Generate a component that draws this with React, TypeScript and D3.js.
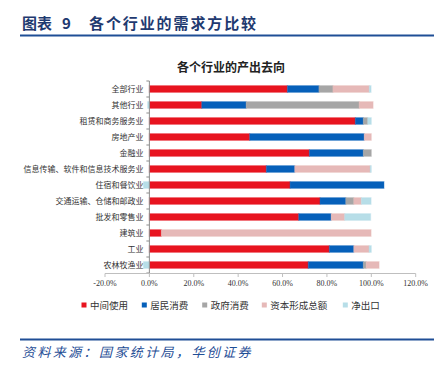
import React from 'react';
import * as d3 from 'd3';

const categories = ['全部行业', '其他行业', '租赁和商务服务业', '房地产业', '金融业', '信息传输、软件和信息技术服务业', '住宿和餐饮业', '交通运输、仓储和邮政业', '批发和零售业', '建筑业', '工业', '农林牧渔业'];
const seriesNames = ['中间使用', '居民消费', '政府消费', '资本形成总额', '净出口'];
const intermediateUse = [62.2, 23.6, 92.8, 45.2, 72.1, 52.7, 63.4, 76.9, 67.3, 5.4, 81.1, 71.6];
const householdConsumption = [14.2, 20.0, 3.6, 51.6, 24.3, 12.8, 42.3, 11.6, 14.6, 0, 11.0, 24.8];
const governmentConsumption = [6.3, 50.9, 2.0, 0, 3.6, 0, 0, 3.6, 0, 0, 0, 1.3];
const capitalFormation = [16.4, 6.3, 0, 3.2, 0, 34.0, 0, 3.4, 6.1, 94.5, 6.9, 5.8];
const netExports = [0.8, -0.8, 1.6, 0, 0, 0.5, -2.7, 4.4, 11.7, 0, 1.0, -2.7];
const xTicks = [-20, 0, 20, 40, 60, 80, 100, 120];
const colors = ['#E8141F', '#0660BA', '#A6A6A6', '#E6B9B8', '#B7DEE8'];

const W = 448;
const H = 366;

export default function App() {
  const seriesValues = [intermediateUse, householdConsumption, governmentConsumption, capitalFormation, netExports];
  const rows = categories.map((c, i) => {
    const r: any = { cat: c };
    seriesNames.forEach((s, k) => (r[s] = seriesValues[k][i]));
    return r;
  });
  const stack = d3.stack<any>().keys(seriesNames).offset(d3.stackOffsetDiverging);
  const stacked = stack(rows);

  const x = d3.scaleLinear().domain([-20, 120]).range([105, 415.7]);
  const y = d3.scaleBand<string>().domain(categories).range([81, 273]).paddingInner(0.58).paddingOuter(0.29);
  const bh = y.bandwidth();

  const cjk = '"Noto Sans CJK SC", "Noto Sans", sans-serif';
  const legendX = [84, 144.3, 204.7, 264.3, 345.3];

  return (
    <svg width={W} height={H} style={{ position: 'absolute', left: 0, top: 0, background: '#fff' }}>
      <rect x={0} y={0} width={W} height={H} fill="#fff" />
      {/* header */}
      <text x={22} y={29} fontFamily={cjk} fontWeight={700} fontSize={15} fill="#1F3A70">图表</text>
      <text x={62} y={29} fontFamily={cjk} fontWeight={700} fontSize={15} fill="#1F3A70">9</text>
      <text x={89} y={29} fontFamily={cjk} fontWeight={700} fontSize={15} letterSpacing={1.9} fill="#1F3A70">各个行业的需求方比较</text>
      <line x1={20} x2={434} y1={35.5} y2={35.5} stroke="#1F4E96" strokeWidth={2} />

      {/* chart title */}
      <text x={231} y={72} textAnchor="middle" fontFamily={cjk} fontWeight={700} fontSize={12} fill="#222">各个行业的产出去向</text>

      {/* bars */}
      {stacked.map((s, k) => (
        <g key={s.key} fill={colors[k]}>
          {s.map((d, i) => {
            const x0 = x(Math.min(d[0], d[1]));
            const x1 = x(Math.max(d[0], d[1]));
            if (x1 - x0 <= 0) return null;
            return (
              <rect key={i} x={x0} y={y(categories[i])!} width={x1 - x0} height={bh}
                stroke={colors[k]} strokeOpacity={0.35} strokeWidth={1.2} />
            );
          })}
        </g>
      ))}

      {/* y axis */}
      <line x1={x(0)} x2={x(0)} y1={81} y2={273} stroke="#8C8C8C" strokeWidth={1} />
      {d3.range(categories.length + 1).map(i => {
        const yy = 81 + i * 16;
        return <line key={i} x1={x(0) - 3} x2={x(0)} y1={yy} y2={yy} stroke="#8C8C8C" strokeWidth={1} />;
      })}
      {categories.map(c => (
        <text key={c} x={143.5} y={y(c)! + bh / 2 + 3} textAnchor="end" fontFamily={cjk} fontSize={8} fill="#333">{c}</text>
      ))}

      {/* x axis */}
      <line x1={x(-20)} x2={x(120)} y1={273.5} y2={273.5} stroke="#BFBFBF" strokeWidth={1} />
      {xTicks.map(t => (
        <g key={t}>
          <line x1={x(t)} x2={x(t)} y1={273.5} y2={277} stroke="#BFBFBF" strokeWidth={1} />
          <text x={x(t)} y={286} textAnchor="middle" fontFamily='"Liberation Serif", serif' fontSize={8} fill="#333">{t.toFixed(1) + '%'}</text>
        </g>
      ))}

      {/* legend */}
      {seriesNames.map((s, k) => (
        <g key={s}>
          <rect x={legendX[k] - 2.5} y={302.5} width={5} height={5} fill={colors[k]} />
          <text x={legendX[k] + 6} y={308.5} fontFamily={cjk} fontSize={9.5} fill="#333">{s}</text>
        </g>
      ))}

      {/* footer */}
      <line x1={20} x2={434} y1={339.5} y2={339.5} stroke="#1F4E96" strokeWidth={2} />
      <text x={22} y={357} fontFamily={cjk} fontStyle="italic" fontSize={13} letterSpacing={2.4} fill="#1F4E96">资料来源：国家统计局，华创证券</text>
    </svg>
  );
}
